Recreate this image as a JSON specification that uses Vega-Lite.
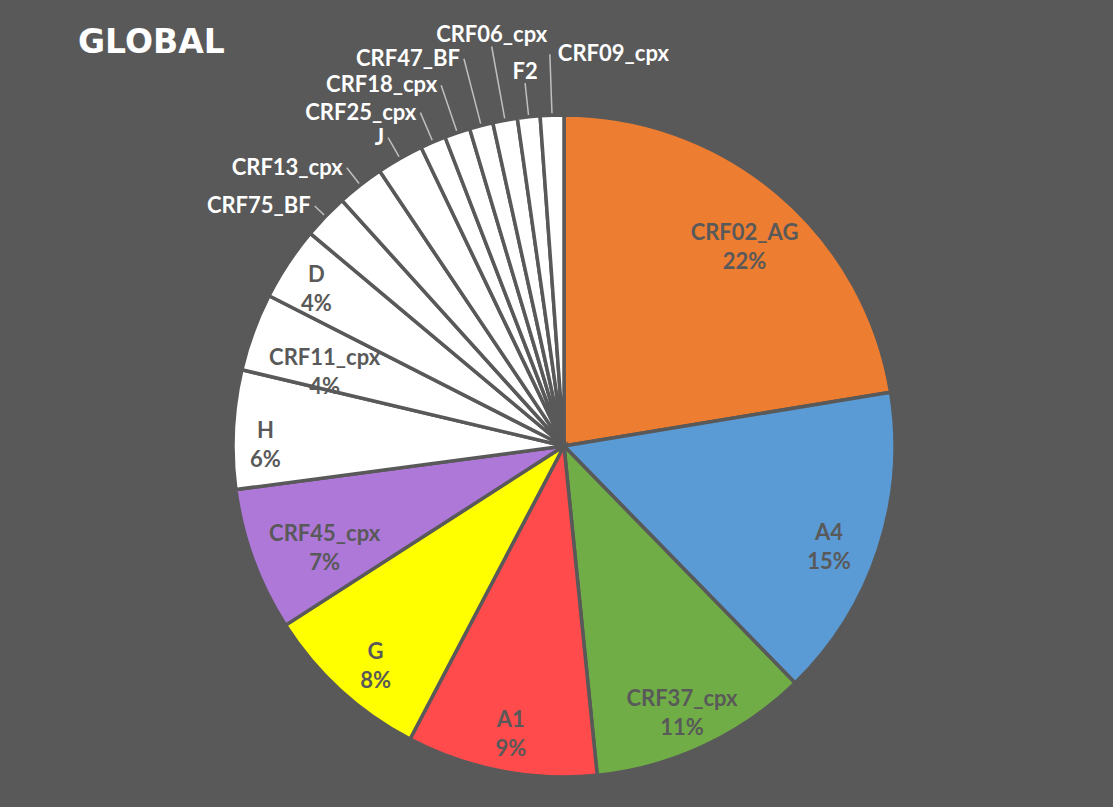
{
  "$schema": "https://vega.github.io/schema/vega-lite/v6.json",
  "width": 1098,
  "height": 722,
  "autosize": {"type": "none"},
  "padding": {"left": 15, "top": 85, "right": 0, "bottom": 0},
  "background": "#595959",
  "config": {"view": {"stroke": null}},
  "title": {
    "text": "GLOBAL",
    "anchor": "start",
    "frame": "group",
    "baseline": "alphabetic",
    "offset": 0,
    "dy": 62,
    "dx": 63,
    "font": "DejaVu Sans",
    "fontSize": 33,
    "fontWeight": "bold",
    "color": "#FFFFFF"
  },
  "data": {
    "values": [
      {"name": "CRF02_AG", "value": 22.4},
      {"name": "A4", "value": 15.3},
      {"name": "CRF37_cpx", "value": 10.7},
      {"name": "A1", "value": 9.3},
      {"name": "G", "value": 8.2},
      {"name": "CRF45_cpx", "value": 7.0},
      {"name": "H", "value": 5.8},
      {"name": "CRF11_cpx", "value": 3.8},
      {"name": "D", "value": 3.6},
      {"name": "CRF75_BF", "value": 2.2},
      {"name": "CRF13_cpx", "value": 2.3},
      {"name": "J", "value": 2.3},
      {"name": "CRF25_cpx", "value": 1.25},
      {"name": "CRF18_cpx", "value": 1.25},
      {"name": "CRF47_BF", "value": 1.15},
      {"name": "CRF06_cpx", "value": 1.2},
      {"name": "F2", "value": 1.1},
      {"name": "CRF09_cpx", "value": 1.15}
    ]
  },
  "transform": [
    {"window": [{"op": "row_number", "as": "idx"}]},
    {"joinaggregate": [{"op": "sum", "field": "value", "as": "total"}]},
    {"stack": "value", "groupby": [], "sort": [{"field": "idx", "order": "ascending"}], "as": ["v0", "v1"]},
    {"calculate": "(datum.v0 + datum.v1) / 2", "as": "mid"},
    {"calculate": "datum.name + '\\n' + format(datum.value / datum.total, '.0%')", "as": "label"}
  ],
  "layer": [
    {
      "mark": {"type": "arc", "radius": 331, "stroke": "#595959", "strokeWidth": 3.5},
      "encoding": {
        "theta": {"field": "v0", "type": "quantitative", "scale": {"domain": [0, 100]}},
        "theta2": {"field": "v1"},
        "color": {
          "field": "name",
          "type": "nominal",
          "legend": null,
          "scale": {
            "domain": ["CRF02_AG", "A4", "CRF37_cpx", "A1", "G", "CRF45_cpx", "H", "CRF11_cpx", "D", "CRF75_BF", "CRF13_cpx", "J", "CRF25_cpx", "CRF18_cpx", "CRF47_BF", "CRF06_cpx", "F2", "CRF09_cpx"],
            "range": ["#ED7D31", "#5B9BD5", "#70AD47", "#FF4B4B", "#FFFF00", "#AD78D8", "#FFFFFF", "#FFFFFF", "#FFFFFF", "#FFFFFF", "#FFFFFF", "#FFFFFF", "#FFFFFF", "#FFFFFF", "#FFFFFF", "#FFFFFF", "#FFFFFF", "#FFFFFF"]
          }
        }
      }
    },
    {
      "transform": [{"filter": "datum.idx >= 10"}],
      "mark": {"type": "arc", "filled": false, "stroke": "#BFBFBF", "strokeWidth": 1.5, "radius2": 333},
      "encoding": {
        "theta": {"field": "mid", "type": "quantitative", "scale": {"domain": [0, 100]}},
        "theta2": {"field": "mid"},
        "radius": {
          "field": "idx",
          "type": "quantitative",
          "scale": {"type": "linear", "domain": [10, 11, 12, 13, 14, 15, 16, 17, 18], "range": [346, 353, 355, 363, 381, 400, 406, 365, 392], "zero": false, "nice": false}
        }
      }
    },
    {
      "transform": [{"filter": "datum.idx <= 5"}],
      "mark": {"type": "text", "radius": 279, "align": "center", "baseline": "middle", "lineBreak": "\n", "lineHeight": 29, "font": "Lato", "fontSize": 22, "fontWeight": "bold", "fill": "#595959"},
      "encoding": {
        "theta": {"field": "mid", "type": "quantitative", "scale": {"domain": [0, 100]}},
        "text": {"field": "label", "type": "nominal"}
      }
    },
    {
      "transform": [{"filter": "datum.name == 'H'"}],
      "mark": {"type": "text", "radius": 299, "align": "center", "baseline": "middle", "lineBreak": "\n", "lineHeight": 29, "font": "Lato", "fontSize": 22, "fontWeight": "bold", "fill": "#595959"},
      "encoding": {
        "theta": {"field": "mid", "type": "quantitative", "scale": {"domain": [0, 100]}},
        "text": {"field": "label", "type": "nominal"}
      }
    },
    {
      "transform": [{"filter": "datum.name == 'D'"}],
      "mark": {"type": "text", "radius": 297, "dy": -7, "align": "center", "baseline": "middle", "lineBreak": "\n", "lineHeight": 29, "font": "Lato", "fontSize": 22, "fontWeight": "bold", "fill": "#595959"},
      "encoding": {
        "theta": {"field": "mid", "type": "quantitative", "scale": {"domain": [0, 100]}},
        "text": {"field": "label", "type": "nominal"}
      }
    },
    {
      "transform": [{"filter": "datum.name == 'CRF45_cpx' || datum.name == 'CRF11_cpx'"}],
      "mark": {"type": "text", "radius": 255, "align": "center", "baseline": "middle", "lineBreak": "\n", "lineHeight": 29, "font": "Lato", "fontSize": 22, "fontWeight": "bold", "fill": "#595959"},
      "encoding": {
        "theta": {"field": "mid", "type": "quantitative", "scale": {"domain": [0, 100]}},
        "text": {"field": "label", "type": "nominal"}
      }
    },
    {
      "transform": [{"filter": "datum.idx >= 10 && datum.idx <= 15"}],
      "mark": {"type": "text", "align": "right", "baseline": "middle", "dx": -4, "font": "Lato", "fontSize": 22, "fontWeight": "bold", "fill": "#FFFFFF"},
      "encoding": {
        "theta": {"field": "mid", "type": "quantitative", "scale": {"domain": [0, 100]}},
        "radius": {"field": "idx", "type": "quantitative"},
        "text": {"field": "name", "type": "nominal"}
      }
    },
    {
      "transform": [{"filter": "datum.idx == 16 || datum.idx == 17"}],
      "mark": {"type": "text", "align": "center", "baseline": "alphabetic", "dy": -4, "font": "Lato", "fontSize": 22, "fontWeight": "bold", "fill": "#FFFFFF"},
      "encoding": {
        "theta": {"field": "mid", "type": "quantitative", "scale": {"domain": [0, 100]}},
        "radius": {"field": "idx", "type": "quantitative"},
        "text": {"field": "name", "type": "nominal"}
      }
    },
    {
      "transform": [{"filter": "datum.idx == 18"}],
      "mark": {"type": "text", "align": "left", "baseline": "middle", "dx": 8, "font": "Lato", "fontSize": 22, "fontWeight": "bold", "fill": "#FFFFFF"},
      "encoding": {
        "theta": {"field": "mid", "type": "quantitative", "scale": {"domain": [0, 100]}},
        "radius": {"field": "idx", "type": "quantitative"},
        "text": {"field": "name", "type": "nominal"}
      }
    }
  ]
}
